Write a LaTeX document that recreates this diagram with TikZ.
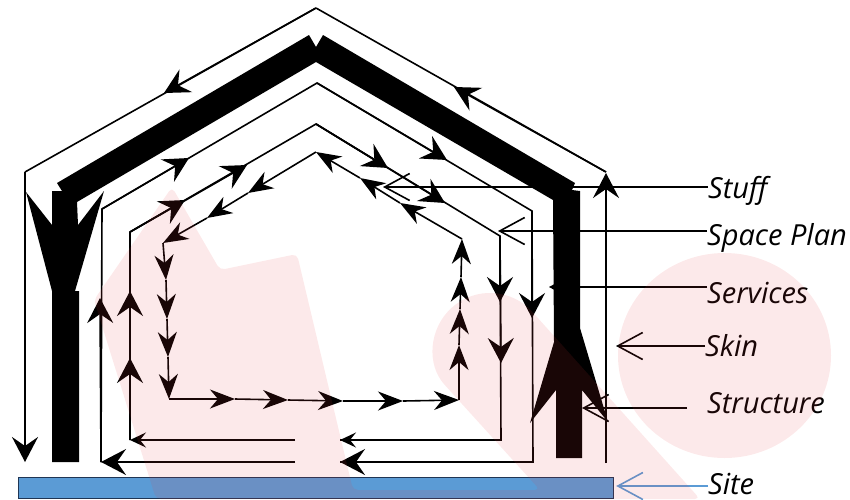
\documentclass[tikz,border=0pt]{standalone}
\usepackage{xcolor}
\usepackage{fontspec}
\setmainfont{Open Sans}
\usetikzlibrary{arrows.meta}

\definecolor{siteblue}{HTML}{5B9BD5}
\definecolor{siteedge}{HTML}{1F3554}
\definecolor{markred}{HTML}{E8383F}

\begin{document}
\begin{tikzpicture}[
    x=1pt, y=-1pt,
    wire/.style={draw=black, line width=1.6pt},
    bigtip/.style={wire, -{Stealth[length=25pt, width=26pt, inset=9pt]}},
    midtip/.style={wire, -{Stealth[length=25pt, width=19pt, inset=8pt]}},
    shorttip/.style={wire, -{Stealth[length=16pt, width=15pt, inset=6pt]}},
    leader/.style={wire, -{Straight Barb[length=25pt, width=27pt, line width=1.6pt]}},
    layerlabel/.style={font=\itshape\fontsize{29}{29}\selectfont, anchor=base west, inner sep=0pt},
    watermark/.style={fill=markred, opacity=0.11}
]
    \useasboundingbox (0,0) rectangle (850,499);

    % Site
    \node[draw=siteedge, fill=siteblue, line width=1.4pt, inner sep=0pt, minimum width=595pt, minimum height=21pt] (site) at (316,488) {};

    % Structure
    \fill[black] (57,183) -- (309,35) -- (316,47) -- (323,35) -- (575,183) -- (572,190) -- (580,191)
        -- (580,328) -- (608,422) -- (582,390) -- (582,458) -- (556,458) -- (556,390) -- (530,423)
        -- (554,342) -- (553,200) -- (316,62) -- (77,202) -- (78,225) -- (104,191) -- (75,291)
        -- (79,291) -- (79,462) -- (52,462) -- (52,291) -- (26,192) -- (52,225) -- (52,191) -- (62,191) -- cycle;

    % Skin
    \coordinate (skinapex) at (316,8);
    \coordinate (skinleft) at (25,172);
    \coordinate (skinright) at (606,172);
    \draw[wire] (skinapex) -- (skinleft);
    \draw[wire] (skinapex) -- (skinright);
    \draw[bigtip] (skinright) -- (454,87);
    \draw[bigtip] (skinapex) -- (164,93);
    \draw[bigtip] (skinleft) -- (25,462);
    \draw[bigtip] (606,463) -- (606,173);

    % Services
    \coordinate (serviceapex) at (317,83);
    \coordinate (serviceleft) at (102,209);
    \coordinate (serviceright) at (532,211);
    \coordinate (servicefoot) at (533,462);
    \coordinate (servicecorner) at (101,462);
    \draw[wire] (servicecorner) -- (serviceleft) -- (serviceapex) -- (serviceright) -- (servicefoot) -- (340,462);
    \draw[bigtip] (serviceleft) -- (189,158);
    \draw[bigtip] (serviceapex) -- (447,160);
    \draw[bigtip] (serviceright) -- (532,318);
    \draw[bigtip] (servicefoot) -- (340,462);
    \draw[bigtip] (295,462) -- (servicecorner);
    \draw[bigtip] (servicecorner) -- (100,298);

    % Space plan
    \coordinate (planapex) at (316,124);
    \coordinate (planleft) at (130,232);
    \coordinate (planright) at (500,236);
    \coordinate (planfoot) at (501,440);
    \coordinate (plancorner) at (130,440);
    \draw[wire] (plancorner) -- (planleft) -- (planapex) -- (planright) -- (planfoot) -- (340,440);
    \foreach \tip in {(130,358), (130,291)} \draw[bigtip] (plancorner) -- \tip;
    \foreach \tip in {(185,200), (247,165)} \draw[bigtip] (planleft) -- \tip;
    \foreach \tip in {(388,168), (445,203)} \draw[bigtip] (planapex) -- \tip;
    \foreach \tip in {(500,302), (501,363)} \draw[bigtip] (planright) -- \tip;
    \draw[shorttip] (planfoot) -- (340,440);
    \draw[shorttip] (295,440) -- (plancorner);

    % Stuff
    \coordinate (stuffapex) at (316,152);
    \coordinate (stuffleft) at (163,243);
    \coordinate (stuffcorner) at (169,399);
    \coordinate (stuffend) at (459,400);
    \coordinate (stufftop) at (462,239);
    \foreach \tip [remember=\tip as \from (initially stufftop)] in {{400,203}, {360,178}, stuffapex} \draw[midtip] (\from) -- (\tip);
    \foreach \tip [remember=\tip as \from (initially stuffapex)] in {{248,193}, {207,218}, stuffleft} \draw[midtip] (\from) -- (\tip);
    \foreach \tip [remember=\tip as \from (initially stuffleft)] in {{166,280}, {167,319}, {168,357}, stuffcorner} \draw[midtip] (\from) -- (\tip);
    \foreach \tip [remember=\tip as \from (initially stuffcorner)] in {{235,399}, {288,400}, {343,401}, {403,401}, stuffend} \draw[midtip] (\from) -- (\tip);
    \foreach \tip [remember=\tip as \from (initially stuffend)] in {{459,345}, {460,309}, {461,277}, stufftop} \draw[midtip] (\from) -- (\tip);

    % Labels
    \node[layerlabel] (stufflabel) at (708,198) {Stuff};
    \node[layerlabel] (planlabel) at (707,245) {Space Plan};
    \node[layerlabel] (serviceslabel) at (707,303) {Services};
    \node[layerlabel] (skinlabel) at (705,356) {Skin};
    \node[layerlabel] (structurelabel) at (707,413) {Structure};
    \node[layerlabel] (sitelabel) at (708,494) {Site};

    % Leaders
    \coordinate (structureend) at (687,408);
    \draw[leader] (stufflabel.west |- 0,187) -- (383,187);
    \draw[leader] (planlabel.west |- 0,231) -- (498,231);
    \draw[leader] (serviceslabel.west |- 0,287) -- (549,287);
    \draw[leader] (skinlabel.west |- 0,346) -- (616,346);
    \draw[leader] (structureend) -- (582,408);
    \draw[leader, draw=siteblue] (sitelabel.west |- 0,486) -- ([xshift=2pt]site.east |- 0,486);

    % Watermark
    \fill[watermark] (724.5,355.5) ellipse [x radius=106.5, y radius=102.5];
    \fill[watermark, rounded corners=5pt] (172,187) -- (220,270) -- (297,254) -- (353,490) -- (540,490)
        -- (447.6,388.1) [rounded corners=0pt] arc[start angle=138, end angle=318, radius=57] [rounded corners=5pt]
        -- (700,499) -- (156,499) -- (94,300) -- cycle;
\end{tikzpicture}
\end{document}
